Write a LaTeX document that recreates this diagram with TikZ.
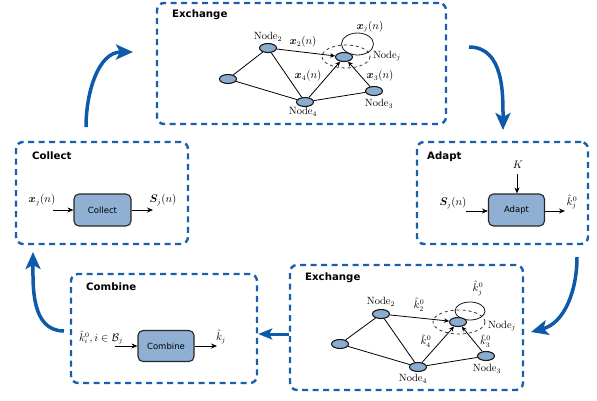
\documentclass[tikz,border=0pt]{standalone}
\usepackage{amsmath,bm}
\usepackage{fontspec}
\newfontfamily\dejavu{DejaVu Sans}
\usetikzlibrary{shapes.geometric,arrows.meta}
\definecolor{pblue}{RGB}{24,96,172}
\definecolor{ablue}{RGB}{14,90,170}
\definecolor{blkfill}{RGB}{143,176,210}
\definecolor{ndfill}{RGB}{138,172,208}
\begin{document}
\begin{tikzpicture}[x=1pt,y=-1pt,
  panel/.style={draw=pblue, line width=2.4pt, dash pattern=on 6pt off 4.5pt, rounded corners=7pt, inner sep=0pt},
  title/.style={font=\dejavu\bfseries\fontsize{10.2}{11}\selectfont, anchor=west, inner sep=0pt},
  blk/.style={draw=black!85, fill=blkfill, rounded corners=5pt, line width=1.1pt, font=\dejavu\fontsize{8.5}{10}\selectfont, inner sep=0pt},
  nd/.style={ellipse, draw=black!90, fill=ndfill, line width=1.1pt, minimum width=17pt, minimum height=9pt, inner sep=0pt},
  lbl/.style={inner sep=0pt, font=\fontsize{10.5}{12}\selectfont},
  edge/.style={line width=0.8pt},
  arr/.style={line width=0.8pt, -{Stealth[length=5pt,width=4.5pt]}},
  barr/.style={line width=1pt, -{Stealth[length=6pt,width=5pt]}},
  bigarrow/.style={draw=ablue, line width=3.5pt, -{Stealth[length=17pt,width=15pt,inset=4pt]}},
  dring/.style={draw=black!80, dashed, line width=0.8pt},
  loopring/.style={draw=black!90, line width=0.8pt}
]
\useasboundingbox (0,0) rectangle (597,400);

% ---------- panels ----------
\node[panel, minimum width=289pt, minimum height=121pt] (pEx1) at (301.5,63.5) {};
\node[panel, minimum width=172pt, minimum height=102pt] (pCol) at (102,193) {};
\node[panel, minimum width=171pt, minimum height=102pt] (pAd) at (502.5,193) {};
\node[panel, minimum width=233pt, minimum height=125pt] (pEx2) at (406.5,327.5) {};
\node[panel, minimum width=186pt, minimum height=109pt] (pCom) at (164,328.5) {};

\node[title] (tEx1) at (172,15) {Exchange};
\node[title] (tCol) at (32,156) {Collect};
\node[title] (tAd) at (427,157) {Adapt};
\node[title] (tEx2) at (305,278) {Exchange};
\node[title] (tCom) at (86,287) {Combine};

% ---------- top exchange network ----------
\draw[dring] (346,56.5) ellipse [x radius=24, y radius=11.5];
\draw[loopring] (357.5,44) ellipse [x radius=16, y radius=11];
\node[nd] (t2) at (268,48) {};
\node[nd] (tL) at (228,79) {};
\node[nd] (t4) at (305,102) {};
\node[nd] (t3) at (374,91) {};
\node[nd] (tj) at (344,57) {};
\draw[edge] (t2) -- (tL);
\draw[edge] (t2) -- (t4);
\draw[edge] (tL) -- (t4);
\draw[edge] (t4) -- (t3);
\draw[arr] (t2) -- (tj);
\draw[arr] (t4) -- (tj);
\draw[arr] (t3) -- (tj);
\node[lbl] (tl2) at (268,37) {$\mathrm{Node}_2$};
\node[lbl] (tlx2) at (303,42) {$\bm{x}_2(n)$};
\node[lbl] (tlxj) at (370,26.5) {$\bm{x}_j(n)$};
\node[lbl] (tlj) at (387,56) {$\mathrm{Node}_j$};
\node[lbl] (tlx4) at (308,76) {$\bm{x}_4(n)$};
\node[lbl] (tlx3) at (380,76) {$\bm{x}_3(n)$};
\node[lbl] (tl3) at (379,104) {$\mathrm{Node}_3$};
\node[lbl] (tl4) at (303,112) {$\mathrm{Node}_4$};

% ---------- bottom exchange network ----------
\draw[dring] (459,322) ellipse [x radius=26, y radius=12];
\draw[loopring] (470,311) ellipse [x radius=15, y radius=9];
\node[nd] (b2) at (381,314) {};
\node[nd] (bL) at (340,344) {};
\node[nd] (b4) at (418,367) {};
\node[nd] (b3) at (486,356) {};
\node[nd] (bj) at (458,322) {};
\draw[edge] (b2) -- (bL);
\draw[edge] (b2) -- (b4);
\draw[edge] (bL) -- (b4);
\draw[edge] (b4) -- (b3);
\draw[arr] (b2) -- (bj);
\draw[arr] (b4) -- (bj);
\draw[arr] (b3) -- (bj);
\node[lbl] (bl2) at (381,302) {$\mathrm{Node}_2$};
\node[lbl] (blk2) at (419,304.5) {$\hat{k}_2^0$};
\node[lbl] (blkj) at (478,288.5) {$\hat{k}_j^0$};
\node[lbl] (blj) at (502,326) {$\mathrm{Node}_j$};
\node[lbl] (blk4) at (426,341) {$\hat{k}_4^0$};
\node[lbl] (blk3) at (485.5,341) {$\hat{k}_3^0$};
\node[lbl] (bl3) at (487,369) {$\mathrm{Node}_3$};
\node[lbl] (bl4) at (413,379) {$\mathrm{Node}_4$};

% ---------- collect ----------
\node[blk, minimum width=57pt, minimum height=32pt] (colB) at (102.5,210) {Collect};
\coordinate (cin) at (53,210);
\coordinate (cout) at (153,210);
\draw[barr] (cin) -- (colB);
\draw[barr] (colB) -- (cout);
\node[lbl] (cinl) at (42,200) {$\bm{x}_j(n)$};
\node[lbl] (coutl) at (163,200) {$\bm{S}_j(n)$};

% ---------- adapt ----------
\node[blk, minimum width=56pt, minimum height=32pt] (adB) at (516.5,210) {Adapt};
\coordinate (ain) at (466,211);
\coordinate (aout) at (565,211);
\coordinate (ak) at (517,174);
\draw[barr] (ain) -- (ain -| adB.west);
\draw[barr] (aout -| adB.east) -- (aout);
\draw[barr] (ak) -- (ak |- adB.north);
\node[lbl] (ainl) at (453,203) {$\bm{S}_j(n)$};
\node[lbl] (aoutl) at (572,202) {$\hat{k}_j^0$};
\node[lbl] (akl) at (518,165) {$K$};

% ---------- combine ----------
\node[blk, minimum width=56pt, minimum height=31pt] (comB) at (166,346) {Combine};
\coordinate (min) at (115,346);
\coordinate (mout) at (217,346);
\draw[barr] (min) -- (comB);
\draw[barr] (comB) -- (mout);
\node[lbl] (minl) at (101,337.5) {$\hat{k}_i^0,i\in\mathcal{B}_j$};
\node[lbl] (moutl) at (221,337) {$\hat{k}_j$};

% ---------- big cycle arrows ----------
\coordinate (a1s) at (469,47);
\coordinate (a1e) at (503,130);
\draw[bigarrow] (a1s) to[out=0,in=90] (a1e);
\coordinate (a2s) at (86,127);
\coordinate (a2e) at (133,52);
\draw[bigarrow] (a2s) to[out=90,in=180] (a2e);
\coordinate (a3s) at (577,257);
\coordinate (a3e) at (531,332);
\draw[bigarrow] (a3s) to[out=-90,in=15] (a3e);
\coordinate (a5s) at (64,331);
\coordinate (a5e) at (33,252);
\draw[bigarrow] (a5s) to[out=180,in=-90] (a5e);
\coordinate (a4s) at (289,334);
\draw[draw=ablue, line width=3pt, -{Stealth[length=14pt,width=11pt,inset=3pt]}] (a4s) -- (a4s -| pCom.east);
\end{tikzpicture}
\end{document}
